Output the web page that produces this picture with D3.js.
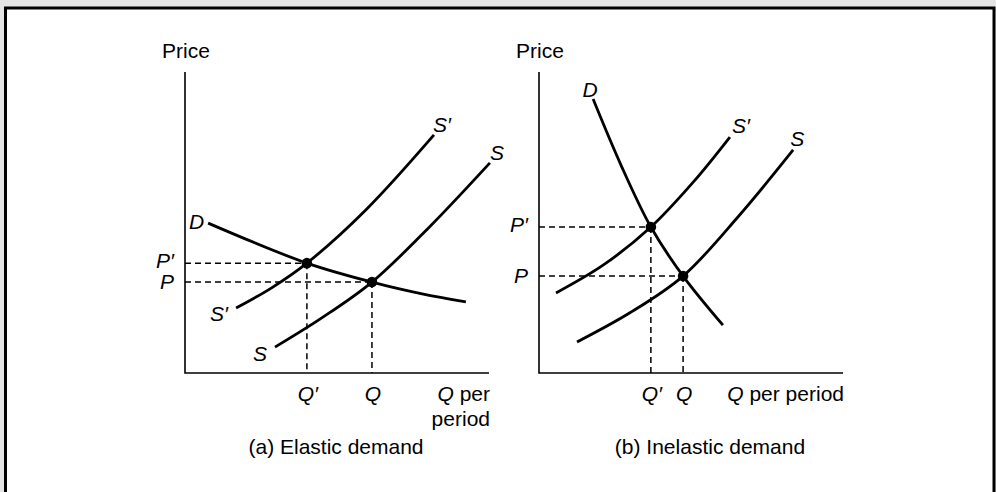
<!DOCTYPE html>
<html>
<head>
<meta charset="utf-8">
<script src="https://cdn.jsdelivr.net/npm/d3@7"></script>
<style>
  html, body { margin: 0; padding: 0; background: #e4e4e4; }
  svg { display: block; }
  text { font-family: "Liberation Sans", Arial, Helvetica, sans-serif; fill: #000; }
  .it { font-style: italic; }
</style>
</head>
<body>
<div id="chart"></div>
<script>
var width = 996;
var height = 492;

// axis units: 0..100 on both axes of each panel
var elasticDemand = [[7.6, 49.8], [40.1, 36.5], [61.5, 30.2], [78, 26.3], [92.4, 23.6]];
var elasticSupplyNew = [[16.8, 21.6], [28.5, 28.3], [40.1, 36.5], [59.8, 54.5], [81.9, 79.1]];
var elasticSupply = [[29.6, 8.6], [45.0, 18.3], [61.5, 30.2], [80.5, 48.6], [100.3, 69.8]];
var elasticEquilibria = [[40.1, 36.5], [61.5, 30.2]];

var inelasticDemand = [[17.8, 91.0], [27, 69], [36.8, 48.5], [47.4, 32.2], [60.5, 15.9]];
var inelasticSupplyNew = [[5.6, 26.6], [21.2, 35.9], [36.8, 48.5], [50.8, 63.5], [62.8, 78.4]];
var inelasticSupply = [[12.5, 10.3], [29.9, 20.0], [47.4, 32.2], [65.5, 51.9], [83.6, 74.1]];
var inelasticEquilibria = [[36.8, 48.5], [47.4, 32.2]];

var priceLabels = ["P\u2032", "P"];
var qtyLabels = ["Q\u2032", "Q"];
var panelTitles = ["(a) Elastic demand", "(b) Inelastic demand"];

var fs = 21;

var svg = d3.select("#chart")
    .append("svg")
    .attr("width", width)
    .attr("height", height);

svg.append("rect")
    .attr("x", 5.5)
    .attr("y", 8)
    .attr("width", 988.5)
    .attr("height", 520)
    .attr("fill", "#fff")
    .attr("stroke", "#000")
    .attr("stroke-width", 3);

function drawPanel(opt) {
    var x = d3.scaleLinear().domain([0, 100]).range([opt.left, opt.left + 304]);
    var y = d3.scaleLinear().domain([0, 100]).range([373, 72]);
    var g = svg.append("g");

    var line = d3.line()
        .x(function (d) { return x(d[0]); })
        .y(function (d) { return y(d[1]); })
        .curve(d3.curveCatmullRom.alpha(0.5));

    // dashed guides
    opt.eq.forEach(function (p) {
        g.append("line")
            .attr("x1", x(0)).attr("x2", x(p[0]))
            .attr("y1", y(p[1])).attr("y2", y(p[1]))
            .attr("stroke", "#000").attr("stroke-width", 1.5)
            .attr("stroke-dasharray", "6,4");
        g.append("line")
            .attr("x1", x(p[0])).attr("x2", x(p[0]))
            .attr("y1", y(p[1])).attr("y2", y(0))
            .attr("stroke", "#000").attr("stroke-width", 1.5)
            .attr("stroke-dasharray", "6,4");
    });

    // axes
    g.append("path")
        .attr("d", "M" + x(0) + "," + y(100) + "V" + y(0) + "H" + x(100))
        .attr("fill", "none")
        .attr("stroke", "#000")
        .attr("stroke-width", 1.6);

    g.append("text")
        .attr("x", x(0) - 23)
        .attr("y", 58)
        .attr("font-size", fs)
        .text("Price");

    opt.curves.forEach(function (c) {
        g.append("path")
            .datum(c.data)
            .attr("d", line)
            .attr("fill", "none")
            .attr("stroke", "#000")
            .attr("stroke-width", 2.8);
        c.labels.forEach(function (l) {
            var p = l.at === "start" ? c.data[0] : c.data[c.data.length - 1];
            g.append("text")
                .attr("class", "it")
                .attr("x", x(p[0]) + l.dx)
                .attr("y", y(p[1]) + l.dy)
                .attr("text-anchor", l.anchor)
                .attr("font-size", fs)
                .text(c.name);
        });
    });

    g.selectAll("circle")
        .data(opt.eq)
        .enter().append("circle")
        .attr("cx", function (d) { return x(d[0]); })
        .attr("cy", function (d) { return y(d[1]); })
        .attr("r", 5.3)
        .attr("fill", "#000");

    g.selectAll(".plab")
        .data(opt.eq)
        .enter().append("text")
        .attr("class", "it")
        .attr("x", x(0) - 11)
        .attr("y", function (d, i) { return y(d[1]) + (i === 0 ? 5 : 7); })
        .attr("text-anchor", "end")
        .attr("font-size", fs)
        .text(function (d, i) { return priceLabels[i]; });

    g.selectAll(".qlab")
        .data(opt.eq)
        .enter().append("text")
        .attr("class", "it")
        .attr("x", function (d) { return x(d[0]) + 1; })
        .attr("y", 401)
        .attr("text-anchor", "middle")
        .attr("font-size", fs)
        .text(function (d, i) { return qtyLabels[i]; });

    var ql = g.append("text")
        .attr("x", x(100) + 1)
        .attr("y", 401)
        .attr("text-anchor", "end")
        .attr("font-size", fs);
    ql.append("tspan").attr("class", "it").text("Q");
    if (opt.wrap) {
        ql.append("tspan").text(" per");
        g.append("text")
            .attr("x", x(100) + 1)
            .attr("y", 426)
            .attr("text-anchor", "end")
            .attr("font-size", fs)
            .text("period");
    } else {
        ql.append("tspan").text(" per period");
    }

    g.append("text")
        .attr("x", opt.titleX)
        .attr("y", 454)
        .attr("text-anchor", "middle")
        .attr("font-size", fs)
        .text(opt.title);
}

drawPanel({
    left: 185,
    eq: elasticEquilibria,
    wrap: true,
    title: panelTitles[0],
    titleX: 336,
    curves: [
        { name: "D", data: elasticDemand,
          labels: [{ at: "start", dx: -4, dy: 6, anchor: "end" }] },
        { name: "S\u2032", data: elasticSupplyNew,
          labels: [{ at: "start", dx: -8, dy: 13, anchor: "end" },
                   { at: "end", dx: -1, dy: -3, anchor: "start" }] },
        { name: "S", data: elasticSupply,
          labels: [{ at: "start", dx: -8, dy: 14, anchor: "end" },
                   { at: "end", dx: 0, dy: -3, anchor: "start" }] }
    ]
});

drawPanel({
    left: 539,
    eq: inelasticEquilibria,
    wrap: false,
    title: panelTitles[1],
    titleX: 710,
    curves: [
        { name: "D", data: inelasticDemand,
          labels: [{ at: "start", dx: -3, dy: -2, anchor: "middle" }] },
        { name: "S\u2032", data: inelasticSupplyNew,
          labels: [{ at: "end", dx: 2, dy: -4, anchor: "start" }] },
        { name: "S", data: inelasticSupply,
          labels: [{ at: "end", dx: -3, dy: -4, anchor: "start" }] }
    ]
});
</script>
</body>
</html>
